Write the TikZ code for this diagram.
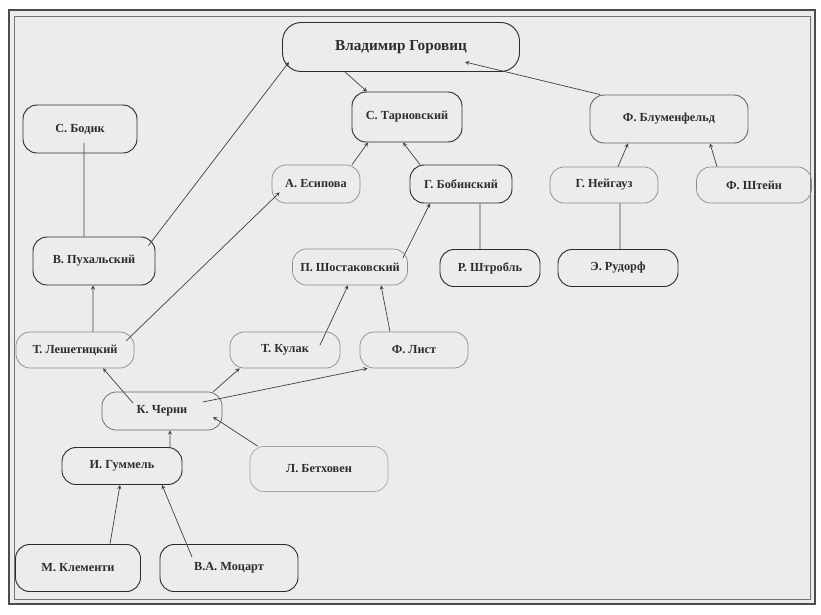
\documentclass[tikz,border=0pt]{standalone}
\usepackage{fontspec}
\setmainfont{Liberation Serif}
\usepackage{tikz}
\usetikzlibrary{
    calc,
    positioning,
    backgrounds}
\definecolor{paper}{RGB}{236,236,236}
\definecolor{ink}{RGB}{45,45,45}
\tikzset{pn/.style={draw=ink, line width=0.8pt, rounded corners=12pt, text=ink,
            font=\fontsize{10.5}{12}\selectfont\bfseries, inner sep=1mm}}
\tikzset{pl/.style={pn, draw=black!45, line width=0.6pt}}
\tikzset{ln/.style={draw=black!75, line width=0.6pt}}

\begin{document}
\begin{tikzpicture}[x=0.03cm, y=-0.03cm, >=stealth]

    \useasboundingbox (0,0) rectangle (821,614);
    % frame
    \fill[white] (0,0) rectangle (821,614);
    \fill[paper] (9,10) rectangle (815,604);
    \draw[black!70, line width=1.6pt] (9,10) rectangle (815,604);
    \draw[black!55, line width=0.5pt] (14,16) rectangle (810,599);

    % top
    \node(gor)[pn, rounded corners=16pt, minimum width=7.11cm, minimum height=1.47cm,
        font=\fontsize{13}{15}\selectfont\bfseries] at (401,47){Владимир Горовиц};
    \node(tar)[pn, minimum width=3.3cm, minimum height=1.5cm] at (407,117){С. Тарновский};
    \node(blu)[pn, draw=black!60, minimum width=4.74cm, minimum height=1.44cm] at (669,119){Ф. Блуменфельд};
    \node(bod)[pn, minimum width=3.42cm, minimum height=1.44cm] at (80,129){С. Бодик};

    % second row
    \node(esi)[pl, minimum width=2.64cm, minimum height=1.14cm] at (316,184){А. Есипова};
    \node(bob)[pn, minimum width=3.06cm, minimum height=1.14cm] at (461,184){Г. Бобинский};
    \node(nei)[pl, minimum width=3.24cm, minimum height=1.08cm] at (604,185){Г. Нейгауз};
    \node(sht)[pl, minimum width=3.45cm, minimum height=1.08cm] at (754,185){Ф. Штейн};

    % third row
    \node(puh)[pn, minimum width=3.66cm, minimum height=1.44cm] at (94,261){В. Пухальский};
    \node(sho)[pl, minimum width=3.45cm, minimum height=1.08cm] at (350,267){П. Шостаковский};
    \node(str)[pn, minimum width=3.0cm, minimum height=1.11cm] at (490,268){Р. Штробль};
    \node(rud)[pn, minimum width=3.6cm, minimum height=1.11cm] at (618,268){Э. Рудорф};

    % fourth row
    \node(les)[pl, minimum width=3.54cm, minimum height=1.08cm] at (75,350){Т. Лешетицкий};
    \node(kul)[pl, minimum width=3.3cm, minimum height=1.08cm] at (285,350){Т. Кулак};
    \node(lis)[pl, minimum width=3.24cm, minimum height=1.08cm] at (414,350){Ф. Лист};

    % bottom
    \node(che)[pl, draw=black!60, minimum width=3.6cm, minimum height=1.14cm] at (162,411){К. Черни};
    \node(gum)[pn, minimum width=3.6cm, minimum height=1.11cm] at (122,466){И. Гуммель};
    \node(bet)[pl, draw=black!35, minimum width=4.14cm, minimum height=1.35cm] at (319,469){Л. Бетховен};
    \node(kle)[pn, minimum width=3.75cm, minimum height=1.41cm] at (78,568){М. Клементи};
    \node(moz)[pn, minimum width=4.14cm, minimum height=1.41cm] at (229,568){В.А. Моцарт};

    % to Horowitz
    \draw[ln, ->] ([xshift=-1.68cm]gor.south) -- ([xshift=-1.2cm]tar.north);
    \draw[ln, ->] ([xshift=-2.07cm]blu.north) -- ([xshift=1.92cm, yshift=-0.45cm]gor.center);
    \draw[ln, ->] ([xshift=-0.21cm, yshift=-0.27cm]puh.north east) -- ([xshift=0.21cm, yshift=-0.45cm]gor.west);

    % Tarnowsky, Blumenfeld
    \draw[ln, ->] ([xshift=1.08cm]esi.north) -- ([xshift=-1.17cm]tar.south);
    \draw[ln, ->] ([xshift=-1.23cm]bob.north) -- ([xshift=-0.12cm]tar.south);
    \draw[ln, ->] ([xshift=0.42cm]nei.north) -- ([xshift=-1.23cm]blu.south);
    \draw[ln, ->] ([xshift=-1.11cm]sht.north) -- ([xshift=1.23cm]blu.south);

    % plain lines
    \draw[ln] ([xshift=0.12cm, yshift=-0.42cm]bod.center) -- ([xshift=-0.3cm]puh.north);
    \draw[ln] ([xshift=0.57cm]bob.south) -- ([xshift=-0.3cm]str.north);
    \draw[ln] ([xshift=0.48cm]nei.south) -- ([xshift=0.06cm]rud.north);

    % Leschetizky
    \draw[ln, ->] ([xshift=0.54cm]les.north) -- ([xshift=-0.03cm]puh.south);
    \draw[ln, ->] ([xshift=-0.24cm, yshift=-0.27cm]les.north east) -- ([xshift=0.24cm, yshift=0.33cm]esi.south west);
    \draw[ln, ->] ([xshift=-0.15cm, yshift=0.27cm]sho.east) -- ([xshift=-0.93cm]bob.south);

    % Kullak, Liszt
    \draw[ln, ->] ([xshift=1.05cm, yshift=0.15cm]kul.center) -- ([xshift=-0.06cm]sho.south);
    \draw[ln, ->] ([xshift=-0.72cm]lis.north) -- ([xshift=0.93cm]sho.south);

    % Czerny
    \draw[ln, ->] ([xshift=-0.87cm, yshift=0.24cm]che.center) -- ([xshift=0.84cm]les.south);
    \draw[ln, ->] ([xshift=-0.27cm]che.north east) -- ([xshift=0.3cm]kul.south west);
    \draw[ln, ->] ([xshift=1.23cm, yshift=0.27cm]che.center) -- ([xshift=0.24cm]lis.south west);
    \draw[ln, ->] ([xshift=0.24cm]bet.north west) -- ([xshift=1.53cm, yshift=-0.18cm]che.center);
    \draw[ln, ->] ([xshift=1.44cm]gum.north) -- ([xshift=0.24cm]che.south);

    % Hummel
    \draw[ln, ->] ([xshift=0.96cm]kle.north) -- ([xshift=-0.06cm]gum.south);
    \draw[ln, ->] ([xshift=-1.11cm, yshift=0.33cm]moz.center) -- ([xshift=1.2cm]gum.south);

\end{tikzpicture}
\end{document}
